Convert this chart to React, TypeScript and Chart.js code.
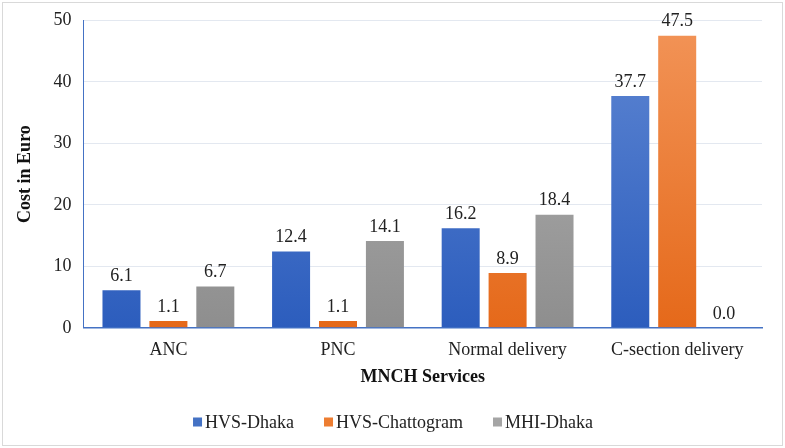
import React, { useEffect, useRef } from "react";
import { Chart, registerables } from "chart.js";
Chart.register(...registerables);

const categories = ["ANC", "PNC", "Normal delivery", "C-section delivery"];
const hvsDhaka = [6.1, 12.4, 16.2, 37.7];
const hvsChattogram = [1.1, 1.1, 8.9, 47.5];
const mhiDhaka = [6.7, 14.1, 18.4, 0.0];
const seriesNames = ["HVS-Dhaka", "HVS-Chattogram", "MHI-Dhaka"];
const yTicks = [0, 10, 20, 30, 40, 50];

const FONT = "'Liberation Serif', 'Times New Roman', serif";

const palette = [
  { top: "#5F87D3", bottom: "#2C5DBD", solid: "#4472C4" },
  { top: "#F29458", bottom: "#E5691A", solid: "#ED7D31" },
  { top: "#B4B4B4", bottom: "#8E8E8E", solid: "#A5A5A5" },
];

function gradientFor(idx: number) {
  return (ctx: any) => {
    const chart = ctx.chart;
    const area = chart.chartArea;
    if (!area) return palette[idx].solid;
    const g = chart.ctx.createLinearGradient(0, area.top, 0, area.bottom);
    g.addColorStop(0, palette[idx].top);
    g.addColorStop(1, palette[idx].bottom);
    return g;
  };
}

const valueLabels = {
  id: "valueLabels",
  afterDatasetsDraw(chart: any) {
    const ctx = chart.ctx;
    ctx.save();
    ctx.font = `18px ${FONT}`;
    ctx.fillStyle = "#222222";
    ctx.textAlign = "center";
    ctx.textBaseline = "bottom";
    chart.data.datasets.forEach((ds: any, i: number) => {
      const meta = chart.getDatasetMeta(i);
      meta.data.forEach((bar: any, j: number) => {
        const v = ds.data[j];
        ctx.fillText(Number(v).toFixed(1), bar.x, bar.y - 5);
      });
    });
    ctx.restore();
  },
};

const customLegend = {
  id: "customLegend",
  afterDraw(chart: any) {
    const ctx = chart.ctx;
    ctx.save();
    ctx.font = `18px ${FONT}`;
    ctx.textBaseline = "middle";
    ctx.textAlign = "left";
    const box = 9;
    const gapBox = 3;
    const gapItem = 30;
    const widths = seriesNames.map((n) => box + gapBox + ctx.measureText(n).width);
    const total = widths.reduce((a, b) => a + b, 0) + gapItem * (seriesNames.length - 1);
    let x = 391 - total / 2;
    const y = chart.height - 24;
    seriesNames.forEach((n, i) => {
      ctx.fillStyle = palette[i].solid;
      ctx.fillRect(x, y - box / 2, box, box);
      ctx.fillStyle = "#222";
      ctx.fillText(n, x + box + gapBox, y + 1);
      x += widths[i] + gapItem;
    });
    ctx.restore();
  },
};

export default function App() {
  const ref = useRef<HTMLCanvasElement>(null);
  useEffect(() => {
    const datasets = [hvsDhaka, hvsChattogram, mhiDhaka].map((d, i) => ({
      label: seriesNames[i],
      data: d,
      backgroundColor: gradientFor(i),
      borderWidth: 0,
      barPercentage: 0.81,
      categoryPercentage: 0.83,
    }));
    const chart = new Chart(ref.current!, {
      type: "bar",
      data: { labels: categories, datasets },
      plugins: [valueLabels, customLegend],
      options: {
        responsive: false,
        animation: false,
        layout: { padding: { top: 1, right: 21, left: 13, bottom: 58 } },
        scales: {
          x: {
            grid: { display: false, drawTicks: false },
            border: { color: "#4472C4", width: 1.5 },
            ticks: { font: { family: FONT, size: 18 }, color: "#222", padding: 12 },
            title: {
              display: true,
              text: "MNCH Services",
              font: { family: FONT, size: 18, weight: "bold" },
              color: "#111",
              padding: { top: -7, bottom: 0 },
            },
          },
          y: {
            min: 0,
            max: 50,
            afterBuildTicks: (axis: any) => {
              axis.ticks = yTicks.map((v) => ({ value: v }));
            },
            grid: { color: "#E3E8F0", drawTicks: false },
            border: { color: "#4472C4", width: 1 },
            ticks: { font: { family: FONT, size: 18, lineHeight: 0.7 }, color: "#222", padding: 12 },
            title: {
              display: true,
              text: "Cost in Euro",
              font: { family: FONT, size: 18, weight: "bold" },
              color: "#111",
              padding: { top: 0, bottom: 5 },
            },
          },
        },
        plugins: {
          legend: { display: false },
          tooltip: { enabled: false },
        },
      },
    });
    return () => chart.destroy();
  }, []);
  return (
    <div style={{ position: "fixed", left: 0, top: 0, width: 785, height: 448, background: "#fff" }}>
      <div style={{ position: "absolute", left: 2, top: 2, width: 779, height: 442, border: "1px solid #D9D9D9" }} />
      <canvas ref={ref} width={781} height={444} style={{ position: "absolute", left: 2, top: 2 }} />
    </div>
  );
}
